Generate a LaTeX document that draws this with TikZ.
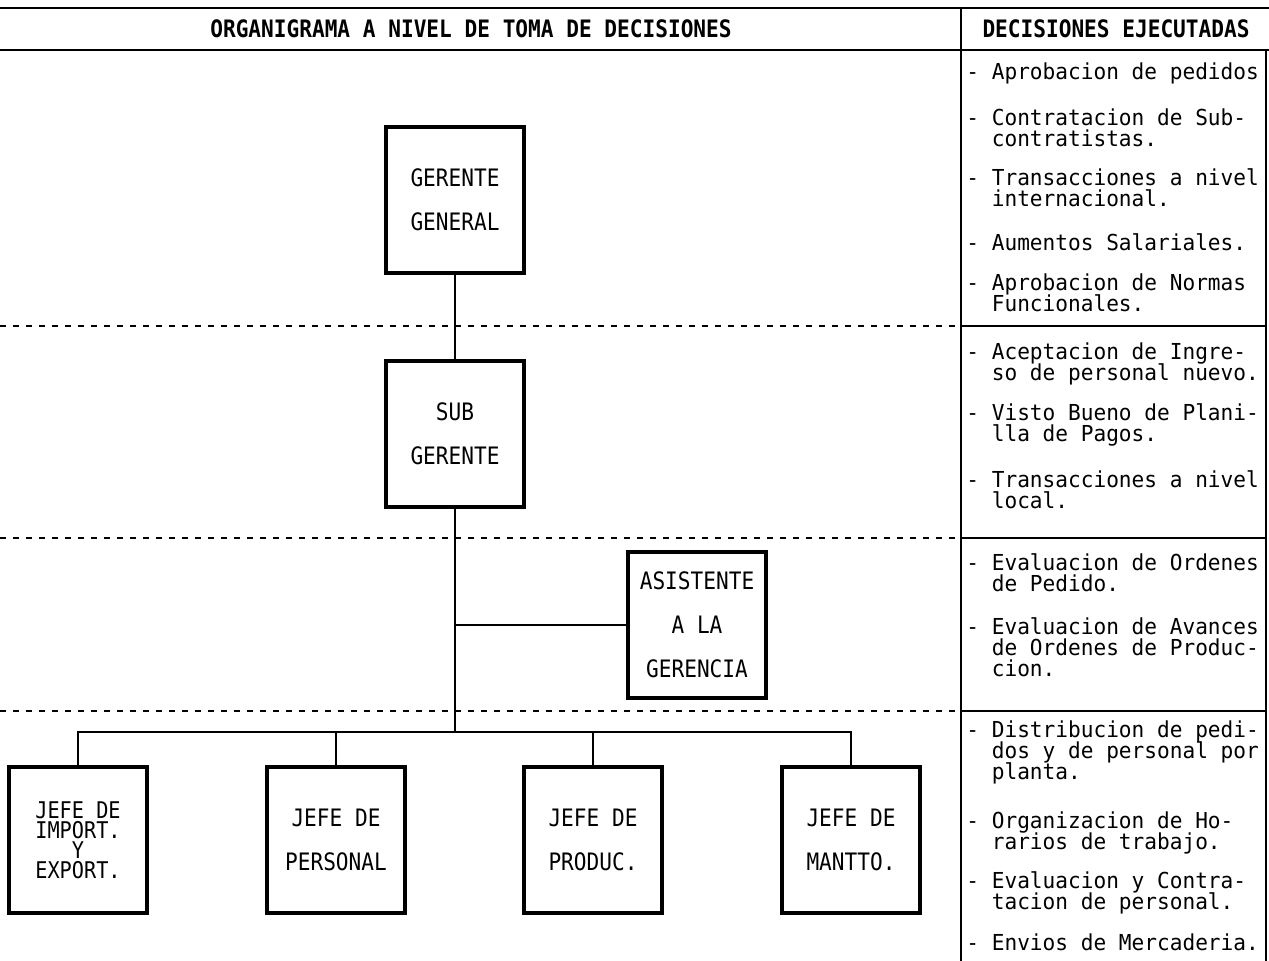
\documentclass[tikz,border=0pt]{standalone}
\usepackage{fontspec}
\newfontfamily\plotfont[FakeStretch=0.88]{DejaVu Sans Mono}
\newfontfamily\decplot[FakeStretch=0.96]{DejaVu Sans Mono}
\usetikzlibrary{positioning}
\tikzset{every node/.style={font=\plotfont\fontsize{12}{22}\selectfont}}
\newcommand{\dind}{\phantom{-~}}
\newcommand{\tightlines}{\lineskiplimit-20pt\relax}
\newcommand{\decfont}{\decplot\fontsize{11}{10.5}\selectfont\tightlines}

\begin{document}
\begin{tikzpicture}[
    x = 0.5pt, y = -0.5pt,
    box/.style = {draw, line width=2pt, minimum width=69pt,
        minimum height=73pt, align=center, inner sep=0pt},
    conn/.style = {line width=0.9pt},
    rule/.style = {line width=1.2pt},
    sep/.style = {line width=1.3pt, dash pattern=on 3pt off 3.5pt},
    dec/.style = {anchor=base west, inner sep=0pt}
  ]
  \useasboundingbox (0,0) rectangle (1269,961);

  \draw[rule] (0,8) -- (1269,8);
  \draw[rule] (0,50) -- (1269,50);
  \draw[rule] (961,8) -- (961,961);
  \draw[rule] (1266,50) -- (1266,961);
  \foreach \y in {326, 538, 711} {
    \draw[rule] (961,\y) -- (1266,\y);
    \draw[sep] (0,\y) -- (958,\y);
  }

  \node[font=\plotfont\bfseries\fontsize{12}{14}\selectfont] (TITLE) at (471,29)
    {ORGANIGRAMA A NIVEL DE TOMA DE DECISIONES};
  \node[font=\plotfont\bfseries\fontsize{12}{14}\selectfont] (DECTITLE) at (1116,29)
    {DECISIONES EJECUTADAS};

  \node[box] (GG) at (455,200) {GERENTE\\GENERAL};
  \node[box] (SG) at (455,434) {SUB\\GERENTE};
  \node[box] (AG) at (697,625) {ASISTENTE\\A LA\\GERENCIA};
  \coordinate (BUS) at (455,732);

  \node[box, font=\plotfont\fontsize{11.5}{10}\selectfont\tightlines]
    (J1) at (78,840) {JEFE DE\\IMPORT.\\Y\\EXPORT.};
  \foreach \x/\t [count=\i from 2] in {336/{JEFE DE\\PERSONAL},
      593/{JEFE DE\\PRODUC.}, 851/{JEFE DE\\MANTTO.}}
    \node[box] (J\i) at (\x,840) {\t};

  \draw[conn] (GG) -- (SG);
  \draw[conn] (SG) -- (BUS);
  \draw[conn] (AG) -- (AG -| SG);
  \draw[conn] (J1) |- (BUS) -| (J4);
  \draw[conn] (J2) -- (J2 |- BUS);
  \draw[conn] (J3) -- (J3 |- BUS);

  \foreach \y/\t [count=\i] in {
      80/{-~Aprobacion de pedidos},
      126/{-~Contratacion de Sub-\\\dind contratistas.},
      186/{-~Transacciones a nivel\\\dind internacional.},
      251/{-~Aumentos Salariales.},
      291/{-~Aprobacion de Normas\\\dind Funcionales.},
      360/{-~Aceptacion de Ingre-\\\dind so de personal nuevo.},
      421/{-~Visto Bueno de Plani-\\\dind lla de Pagos.},
      488/{-~Transacciones a nivel\\\dind local.},
      571/{-~Evaluacion de Ordenes\\\dind de Pedido.},
      635/{-~Evaluacion de Avances\\\dind de Ordenes de Produc-\\\dind cion.},
      738/{-~Distribucion de pedi-\\\dind dos y de personal por\\\dind planta.},
      828/{-~Organizacion de Ho-\\\dind rarios de trabajo.},
      888/{-~Evaluacion y Contra-\\\dind tacion de personal.},
      950/{-~Envios de Mercaderia.}}
    \node[dec] (D\i) at (966,\y) {\parbox[t]{150pt}{\decfont\t}};
\end{tikzpicture}
\end{document}
